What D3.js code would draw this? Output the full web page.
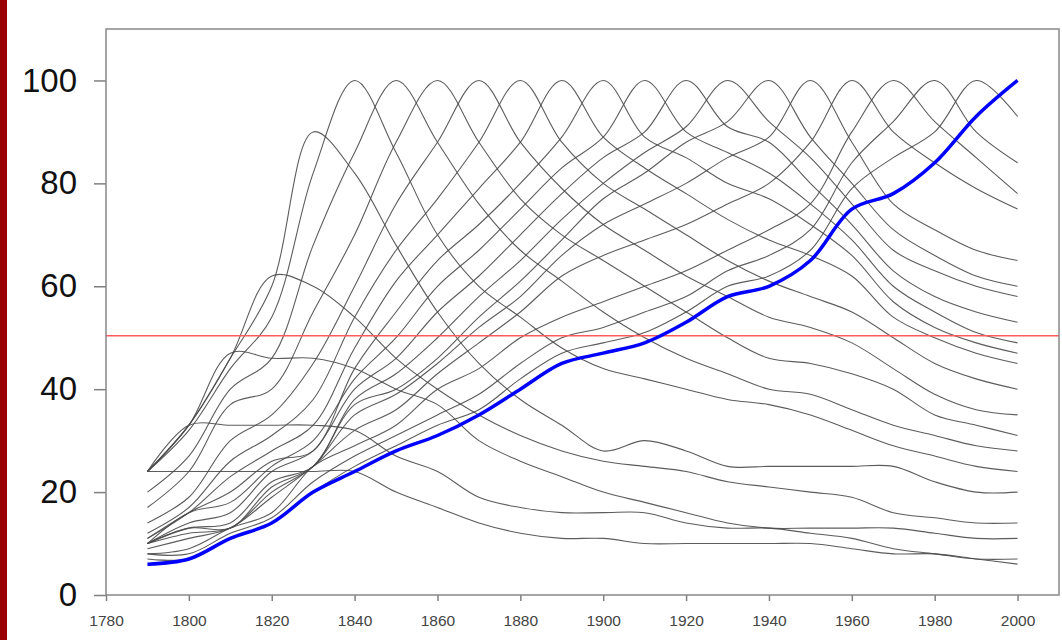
<!DOCTYPE html>
<html>
<head>
<meta charset="utf-8">
<script src="https://cdn.jsdelivr.net/npm/d3@7"></script>
<style>
  html, body { margin: 0; padding: 0; background: #fff; }
  svg { display: block; }
  .tick text { font-family: "Liberation Sans", Arial, sans-serif; }
</style>
</head>
<body>
<svg id="chart" width="1062" height="640"></svg>
<script>
// census years on the x axis
const years = [1790, 1800, 1810, 1820, 1830, 1840, 1850, 1860, 1870, 1880, 1890,
               1900, 1910, 1920, 1930, 1940, 1950, 1960, 1970, 1980, 1990, 2000];

// one series per reference year (grey lines)
const s1790 = [24,24,24,24,24,24,20,17,14,12,11,11,10,10,10,10,10,9,8,8,7,6];
const s1800 = [24,33,33,33,33,32,27,24,19,17,16,16,16,14,13,13,12,11,9,8,7,7];
const s1810 = [24,33,47,46,46,44,40,37,30,26,23,20,18,16,14,13,13,13,13,12,11,11];
const s1820 = [24,33,46,62,60,54,46,40,35,31,28,26,25,24,22,21,20,19,16,15,14,14];
const s1830 = [24,33,46,60,90,82,68,55,45,38,33,28,30,28,25,25,25,25,25,22,20,20];
const s1840 = [24,32,44,54,82,100,86,70,60,54,48,44,42,40,38,37,35,32,29,27,25,24];
const s1850 = [20,27,40,46,68,86,100,88,76,67,61,55,50,46,43,40,39,36,33,31,29,28];
const s1860 = [17,24,37,40,55,70,88,100,88,77,70,65,60,55,50,46,45,43,40,35,33,31];
const s1870 = [14,19,30,35,45,60,76,88,100,88,79,72,67,62,58,54,52,49,44,39,36,35];
const s1880 = [12,17,26,31,38,54,67,77,88,100,88,80,75,70,65,61,58,55,50,45,42,40];
const s1890 = [11,16,23,28,33,48,61,70,79,88,100,89,83,78,73,69,66,62,54,50,47,45];
const s1900 = [11,16,20,26,28,44,55,65,72,80,89,100,89,85,80,77,72,66,57,52,49,47];
const s1910 = [10,16,18,25,30,42,50,60,67,75,83,89,100,90,86,82,76,69,60,55,51,49];
const s1920 = [10,14,16,24,28,40,46,55,62,70,78,85,90,100,91,88,80,72,63,58,55,53];
const s1930 = [10,13,14,22,25,38,43,50,58,65,73,80,86,91,100,92,85,76,67,63,60,58];
const s1940 = [10,13,13,21,25,37,40,46,54,61,69,77,82,88,92,100,89,80,71,66,62,60];
const s1950 = [10,12,13,20,25,35,39,45,52,58,66,72,76,80,85,89,100,88,76,71,67,65];
const s1960 = [9,11,13,19,25,32,36,43,49,55,62,66,69,72,76,80,88,100,90,84,79,75];
const s1970 = [8,9,13,16,25,29,33,40,44,50,54,57,60,63,67,71,76,90,100,92,85,78];
const s1980 = [8,8,12,15,22,27,31,35,39,45,50,52,55,58,63,66,71,84,92,100,90,84];
const s1990 = [7,7,11,14,20,25,29,33,36,42,47,49,51,55,60,62,67,79,85,90,100,93];

// highlighted series (blue)
const s2000 = [6,7,11,14,20,24,28,31,35,40,45,47,49,53,58,60,65,75,78,84,93,100];

// red reference level
const refLevel = 50.4;

const yTicks = [0, 20, 40, 60, 80, 100];
const xTicks = [1780, 1800, 1820, 1840, 1860, 1880, 1900, 1920, 1940, 1960, 1980, 2000];

const greySeries = [s1790, s1800, s1810, s1820, s1830, s1840, s1850, s1860, s1870, s1880, s1890,
                    s1900, s1910, s1920, s1930, s1940, s1950, s1960, s1970, s1980, s1990];

const svg = d3.select('#chart');
const margin = {top: 29, right: 3, bottom: 45, left: 106};
const width = 1062 - margin.left - margin.right;
const height = 640 - margin.top - margin.bottom;

// dark red strip on the left edge
svg.append('rect')
  .attr('x', 0).attr('y', 0)
  .attr('width', 7).attr('height', 640)
  .attr('fill', '#9b0000');

const g = svg.append('g')
  .attr('transform', 'translate(' + margin.left + ',' + margin.top + ')');

const x = d3.scaleLinear().domain([1780, 2010]).range([0, width]);
const y = d3.scaleLinear().domain([0, 110]).range([height, 0]);

// axes
const yAxis = g.append('g')
  .call(d3.axisLeft(y).tickValues(yTicks).tickSize(12).tickPadding(17));
yAxis.select('.domain').remove();
yAxis.selectAll('line').attr('stroke', '#808080').attr('stroke-width', 1.5);
yAxis.selectAll('text').attr('font-size', 33).attr('fill', '#111');

const xAxis = g.append('g')
  .attr('transform', 'translate(0,' + height + ')')
  .call(d3.axisBottom(x).tickValues(xTicks).tickFormat(d3.format('d')).tickSize(6).tickPadding(14));
xAxis.select('.domain').remove();
xAxis.selectAll('line').attr('stroke', '#808080').attr('stroke-width', 1.5);
xAxis.selectAll('text').attr('font-size', 15.5).attr('fill', '#444');

const line = d3.line()
  .x((d, i) => x(years[i]))
  .y(d => y(d))
  .curve(d3.curveCatmullRom.alpha(0.5));

g.append('g')
  .selectAll('path')
  .data(greySeries)
  .enter()
  .append('path')
  .attr('d', line)
  .attr('fill', 'none')
  .attr('stroke', '#4a4a4a')
  .attr('stroke-opacity', 0.9)
  .attr('stroke-width', 1.1);

g.append('line')
  .attr('x1', 0).attr('x2', width)
  .attr('y1', y(refLevel)).attr('y2', y(refLevel))
  .attr('stroke', '#ff5a5a')
  .attr('stroke-width', 1.5);

g.append('path')
  .attr('d', line(s2000))
  .attr('fill', 'none')
  .attr('stroke', '#0000ff')
  .attr('stroke-width', 3.5)
  .attr('stroke-linejoin', 'round');

// plot frame
g.append('rect')
  .attr('x', 0).attr('y', 0)
  .attr('width', width).attr('height', height)
  .attr('fill', 'none')
  .attr('stroke', '#888')
  .attr('stroke-width', 1.5);
</script>
</body>
</html>
